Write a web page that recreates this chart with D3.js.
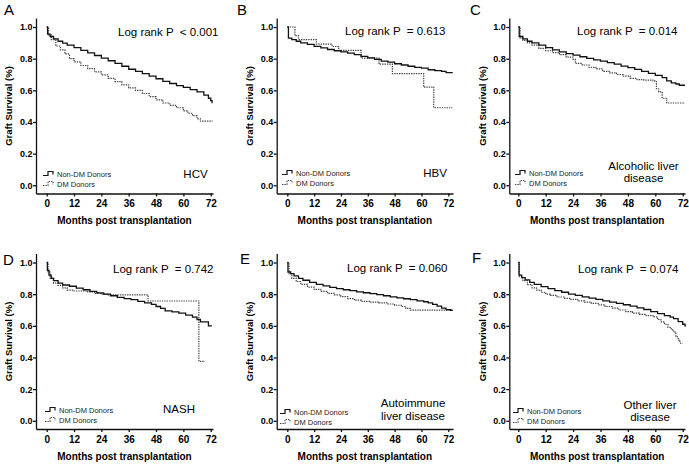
<!DOCTYPE html>
<html>
<head>
<meta charset="utf-8">
<script src="https://cdn.jsdelivr.net/npm/d3@7"></script>
<style>
  body { margin: 0; background: #fff; }
  svg { display: block; font-family: Arial, "Liberation Sans", sans-serif; }
</style>
</head>
<body>
<svg id="chart" width="689" height="464"></svg>
<script>
var panelLetters = ["A", "B", "C", "D", "E", "F"];
var diseaseLabels = [["HCV"], ["HBV"], ["Alcoholic liver", "disease"], ["NASH"], ["Autoimmune", "liver disease"], ["Other liver", "disease"]];
var pValues = ["< 0.001", "= 0.613", "= 0.014", "= 0.742", "= 0.060", "= 0.074"];
var seriesNames = ["Non-DM Donors", "DM Donors"];
var xTicks = [0, 12, 24, 36, 48, 60, 72];
var yTicks = [0, 0.2, 0.4, 0.6, 0.8, 1.0];

// [months, survival]
var hcvNonDM = [[0,1],[0.4,0.955],[1.5,0.94],[3,0.925],[5,0.91],[7,0.898],[9,0.886],[12,0.87],[15,0.853],[18,0.836],[21,0.82],[24,0.803],[27,0.787],[30,0.77],[33,0.752],[36,0.733],[39,0.72],[42,0.705],[45,0.69],[48,0.673],[51,0.657],[54,0.643],[57,0.63],[60,0.618],[63,0.605],[66,0.59],[69,0.57],[71,0.55],[72,0.535],[72.6,0.522],[72.8,0.522]];
var hcvDM = [[0,1],[0.8,0.95],[2,0.92],[4,0.88],[6,0.855],[8,0.83],[10,0.8],[12,0.78],[15,0.757],[18,0.737],[21,0.717],[24,0.697],[27,0.675],[30,0.655],[33,0.635],[36,0.615],[39,0.6],[42,0.58],[45,0.56],[48,0.54],[51,0.52],[54,0.505],[57,0.49],[60,0.47],[62,0.455],[64,0.44],[66,0.42],[67.5,0.405],[72.8,0.405]];
var hbvNonDM = [[0,1],[0.5,0.93],[2,0.92],[4,0.91],[6,0.9],[9,0.89],[12,0.878],[15,0.868],[18,0.858],[21,0.85],[24,0.843],[27,0.835],[30,0.825],[33,0.815],[36,0.805],[39,0.795],[42,0.785],[45,0.778],[48,0.768],[51,0.76],[54,0.752],[57,0.745],[60,0.74],[63,0.73],[66,0.725],[69,0.72],[71,0.712],[74,0.712]];
var hbvDM = [[0,1],[3.4,0.945],[5,0.92],[13,0.892],[20,0.877],[23,0.852],[33,0.803],[41,0.765],[47,0.705],[61,0.62],[65.5,0.49],[73.8,0.49]];
var aldNonDM = [[0,1],[0.4,0.94],[2,0.925],[4,0.91],[6,0.9],[9,0.885],[12,0.87],[15,0.855],[18,0.843],[21,0.832],[24,0.822],[27,0.812],[30,0.802],[33,0.793],[36,0.785],[39,0.775],[42,0.765],[45,0.753],[48,0.743],[51,0.732],[54,0.72],[57,0.707],[60,0.695],[63,0.68],[65,0.66],[67,0.647],[69,0.64],[70.5,0.632],[73,0.632]];
var aldDM = [[0,1],[0.8,0.93],[2,0.915],[4,0.9],[6,0.885],[9,0.865],[12,0.85],[15,0.838],[18,0.825],[21,0.81],[24,0.795],[25,0.77],[28,0.76],[31,0.745],[34,0.735],[37,0.72],[40,0.71],[43,0.7],[46,0.69],[49,0.675],[52,0.668],[55,0.665],[59,0.66],[60.5,0.61],[61.5,0.59],[63,0.55],[65,0.52],[73,0.52]];
var nashNonDM = [[0,1],[0.3,0.95],[1,0.92],[2,0.9],[3,0.885],[5,0.87],[7,0.858],[10,0.85],[13,0.838],[16,0.828],[19,0.818],[22,0.808],[25,0.8],[28,0.79],[31,0.78],[34,0.772],[37,0.765],[40,0.755],[43,0.745],[46,0.735],[48,0.722],[50,0.71],[52,0.695],[55,0.688],[58,0.68],[61,0.668],[64,0.655],[66,0.64],[67.5,0.625],[71,0.6],[72.5,0.6]];
var nashDM = [[0,1],[0.6,0.94],[1.5,0.9],[3,0.87],[5,0.855],[7,0.84],[9,0.825],[12,0.82],[18,0.815],[21,0.805],[24,0.8],[27,0.795],[44.5,0.757],[66.8,0.375],[69.5,0.375]];
var aihNonDM = [[0,1],[0.3,0.94],[1.5,0.93],[3,0.915],[5,0.9],[7,0.888],[10,0.875],[13,0.862],[16,0.852],[19,0.843],[22,0.835],[25,0.828],[28,0.822],[31,0.815],[34,0.809],[37,0.803],[40,0.797],[43,0.79],[46,0.783],[49,0.776],[52,0.771],[55,0.765],[58,0.758],[61,0.752],[63,0.745],[65,0.735],[67,0.725],[69,0.712],[71,0.702],[73,0.698],[74,0.698]];
var aihDM = [[0,1],[0.8,0.93],[2,0.9],[4,0.88],[6,0.862],[9,0.845],[12,0.83],[15,0.818],[18,0.805],[21,0.795],[24,0.785],[27,0.772],[30,0.762],[33,0.755],[37,0.75],[41,0.745],[45,0.738],[48,0.73],[51,0.722],[53,0.71],[55,0.699],[74,0.699]];
var otherNonDM = [[0,1],[0.3,0.92],[1.5,0.905],[3,0.89],[5,0.875],[7,0.862],[10,0.848],[13,0.835],[16,0.823],[19,0.812],[22,0.8],[25,0.792],[28,0.783],[31,0.775],[34,0.767],[37,0.758],[40,0.75],[43,0.742],[46,0.733],[49,0.724],[52,0.714],[55,0.703],[58,0.69],[61,0.677],[64,0.665],[66.5,0.655],[68,0.645],[70,0.627],[72,0.61],[73,0.6],[73.5,0.6]];
var otherDM = [[0,1],[0.5,0.91],[2,0.885],[4,0.86],[6,0.84],[8,0.825],[10,0.812],[12,0.8],[14,0.792],[17,0.782],[20,0.774],[23,0.767],[26,0.758],[29,0.75],[32,0.742],[35,0.732],[38,0.722],[41,0.712],[44,0.7],[47,0.69],[50,0.68],[53,0.672],[56,0.665],[59,0.657],[61,0.64],[62.5,0.625],[64,0.61],[65.5,0.59],[67,0.575],[68,0.56],[69,0.53],[70,0.51],[70.8,0.49],[72,0.49]];

var nonDMSeries = [hcvNonDM, hbvNonDM, aldNonDM, nashNonDM, aihNonDM, otherNonDM];
var dmSeries = [hcvDM, hbvDM, aldDM, nashDM, aihDM, otherDM];

// layout (pixels)
var cols = [
  { axisX: 36, x0: 46.7, x72: 210.7, right: 213 },
  { axisX: 276.7, x0: 287.3, x72: 448.3, right: 453 },
  { axisX: 509.3, x0: 518.3, x72: 682.7, right: 685 }
];
var rowShift = [0, 235.5];
var spots = [
  { letter: [4, 15], lr: [118, 36], lbl: [195.5, 177.5], leg: [43, 174] },
  { letter: [237, 15], lr: [345, 35], lbl: [435, 177.3], leg: [282, 173] },
  { letter: [470, 15], lr: [577, 35], lbl: [643.5, 169.5], leg: [515, 173] },
  { letter: [3, 265], lr: [113, 272.5], lbl: [179, 413], leg: [45, 410] },
  { letter: [240, 264], lr: [347, 272], lbl: [413, 407], leg: [280, 412] },
  { letter: [472, 263], lr: [578, 272.5], lbl: [650, 408.5], leg: [513, 411] }
];

var svg = d3.select("#chart");

panelLetters.forEach(function(letter, i) {
  var c = cols[i % 3];
  var dy = rowShift[Math.floor(i / 3)];
  var s = spots[i];

  var perMonth = (c.x72 - c.x0) / 72;
  var x = d3.scaleLinear()
    .domain([-(c.x0 - c.axisX) / perMonth, 72 + (c.right - c.x72) / perMonth])
    .range([c.axisX, c.right]);
  var y = d3.scaleLinear()
    .domain([-0.052, 1.057])
    .range([193.5 + dy, 18 + dy]);

  var g = svg.append("g");

  var xAxis = g.append("g")
    .attr("transform", "translate(0," + (193.5 + dy) + ")")
    .call(d3.axisBottom(x).tickValues(xTicks).tickSize(3).tickSizeOuter(0).tickPadding(3.5));
  xAxis.selectAll("text").style("font-size", "10px").style("font-weight", "bold")
    .style("font-family", "Arial, 'Liberation Sans', sans-serif");

  var yAxis = g.append("g")
    .attr("transform", "translate(" + c.axisX + ",0)")
    .call(d3.axisLeft(y).tickValues(yTicks).tickFormat(d3.format(".1f")).tickSize(3).tickSizeOuter(0).tickPadding(0.5));
  yAxis.selectAll("text").style("font-size", "9px").style("font-weight", "bold")
    .style("font-family", "Arial, 'Liberation Sans', sans-serif");

  g.selectAll(".domain, .tick line").attr("stroke", "#111").attr("stroke-width", 1.3);

  // axis titles
  g.append("text")
    .attr("x", (c.axisX + c.right) / 2)
    .attr("y", 224 + dy)
    .attr("text-anchor", "middle")
    .style("font-size", "10px").style("font-weight", "bold")
    .text("Months post transplantation");

  g.append("text")
    .attr("transform", "translate(" + (c.axisX - 27) + "," + (106 + dy) + ") rotate(-90)")
    .attr("text-anchor", "middle")
    .attr("dy", "0.35em")
    .style("font-size", "9.5px").style("font-weight", "bold")
    .text("Graft Survival (%)");

  var line = d3.line()
    .x(function(d) { return x(d[0]); })
    .y(function(d) { return y(d[1]); })
    .curve(d3.curveStepAfter);

  g.append("path")
    .datum(dmSeries[i])
    .attr("d", line)
    .attr("fill", "none")
    .attr("stroke", "#444")
    .attr("stroke-width", 1.2)
    .attr("stroke-dasharray", "1.4,1");

  g.append("path")
    .datum(nonDMSeries[i])
    .attr("d", line)
    .attr("fill", "none")
    .attr("stroke", "#111")
    .attr("stroke-width", 1.3);

  // panel letter
  g.append("text")
    .attr("x", s.letter[0]).attr("y", s.letter[1])
    .style("font-size", "15px")
    .text(letter);

  // log rank
  g.append("text")
    .attr("x", s.lr[0]).attr("y", s.lr[1])
    .attr("xml:space", "preserve")
    .style("white-space", "pre")
    .style("font-size", "11.5px")
    .text("Log rank P  " + pValues[i]);

  // disease label
  g.selectAll(".dlabel")
    .data(diseaseLabels[i])
    .enter().append("text")
    .attr("x", s.lbl[0])
    .attr("y", function(d, k) { return s.lbl[1] + k * 12.5; })
    .attr("text-anchor", "middle")
    .style("font-size", "11.5px")
    .text(function(d) { return d; });

  // legend
  seriesNames.forEach(function(name, k) {
    var lx = s.leg[0], ly = s.leg[1] + k * 10;
    g.append("path")
      .attr("d", "M" + lx + "," + (ly + 1.5) + "H" + (lx + 5) + "V" + (ly - 2.5) + "H" + (lx + 10) + "V" + (ly + 0.5))
      .attr("fill", "none")
      .attr("stroke", k === 0 ? "#111" : "#444")
      .attr("stroke-width", k === 0 ? 1.2 : 1.1)
      .attr("stroke-dasharray", k === 0 ? null : "1.4,1");
    g.append("text")
      .attr("x", lx + 14).attr("y", ly + 2.7)
      .style("font-size", "7.5px")
      .attr("fill", "#222")
      .text(name);
  });
});
</script>
</body>
</html>
